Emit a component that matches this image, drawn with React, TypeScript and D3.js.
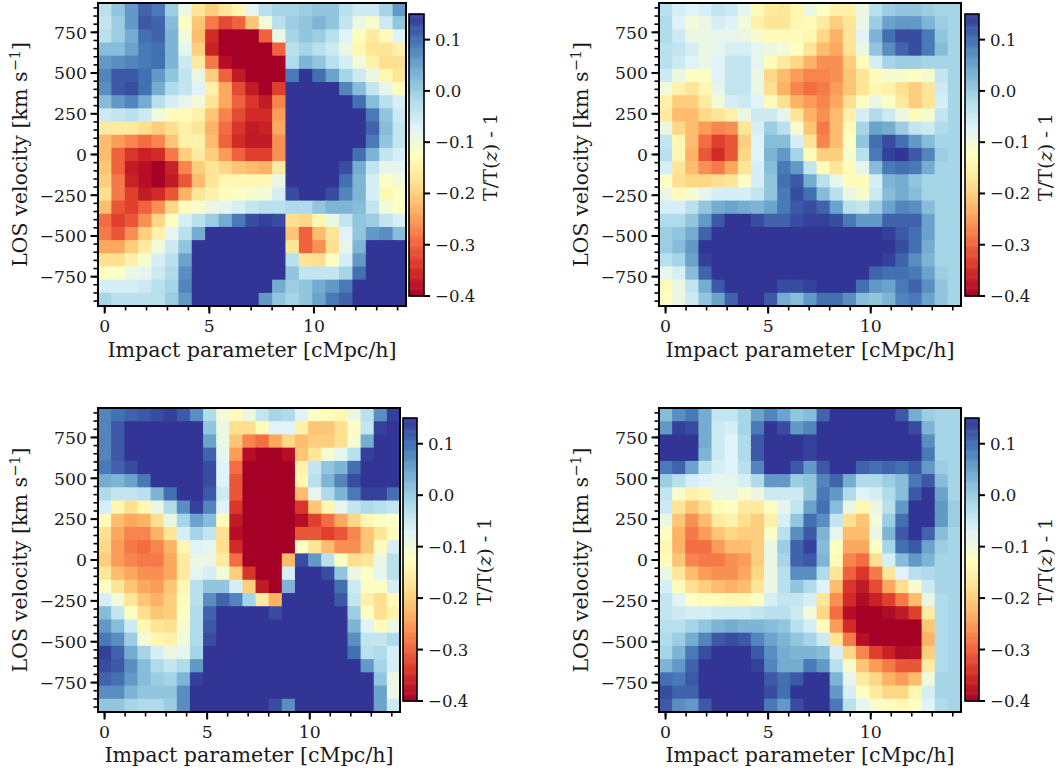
import React from "react";
import * as d3 from "d3";

// temperature contrast, in hundredths, top row first, one row per LOS velocity bin
const panelA: number[][] = [
[-3,1,6,11,9,0,-9,-17,-20,-17,-14,-8,-3,-1,-1,0,1,1,-3,-5,-5,-1,6],
[-4,0,6,12,11,2,-12,-21,-28,-32,-30,-21,-10,-3,0,1,3,1,-4,-9,-11,-5,1],
[-3,0,4,10,11,3,-10,-22,-35,-40,-40,-40,-30,-9,-1,1,0,-3,-7,-13,-16,-13,-7],
[2,2,5,9,10,3,-8,-20,-36,-40,-40,-40,-40,-30,-3,-1,-3,-5,-9,-14,-17,-17,-15],
[6,7,8,9,10,3,-5,-16,-28,-38,-40,-40,-40,-40,-2,3,1,-3,-6,-10,-15,-18,-18],
[8,12,12,10,6,1,-4,-9,-20,-30,-37,-40,-40,-40,9,15,10,5,-1,-5,-9,-14,-17],
[7,12,13,10,4,-2,-4,-7,-15,-24,-32,-37,-40,-33,15,15,15,15,8,2,-4,-8,-13],
[2,6,8,4,-3,-6,-8,-10,-17,-24,-30,-34,-37,-27,15,15,15,15,15,10,2,-3,-6],
[-5,-4,-3,-5,-10,-13,-13,-15,-21,-27,-32,-35,-35,-25,15,15,15,15,15,15,9,1,-5],
[-16,-16,-16,-18,-20,-18,-15,-17,-23,-29,-34,-37,-36,-24,15,15,15,15,15,15,11,2,-4],
[-22,-25,-27,-29,-27,-21,-15,-15,-22,-30,-35,-37,-37,-26,15,15,15,15,15,15,9,1,-4],
[-22,-30,-34,-36,-35,-28,-20,-16,-20,-25,-30,-33,-33,-26,15,15,15,15,15,10,3,-4,-6],
[-21,-30,-37,-38,-40,-36,-27,-20,-17,-19,-21,-22,-23,-16,15,15,15,15,13,4,-4,-8,-8],
[-20,-28,-36,-38,-40,-37,-31,-22,-17,-14,-14,-14,-14,-9,15,15,15,15,10,3,-6,-12,-10],
[-18,-28,-33,-37,-35,-31,-23,-17,-15,-13,-12,-11,-10,-6,13,15,15,13,8,3,-6,-14,-12],
[-22,-31,-33,-30,-26,-19,-13,-11,-9,-8,-6,-4,-3,-3,-2,-2,1,3,3,2,-4,-10,-12],
[-29,-33,-31,-26,-19,-12,-6,-3,0,4,9,13,14,13,-18,-19,-14,-9,-4,1,0,-4,-6],
[-28,-31,-26,-20,-15,-8,-3,4,15,15,15,15,15,15,-21,-30,-22,-17,-7,1,6,7,2],
[-24,-24,-20,-16,-10,-5,1,15,15,15,15,15,15,15,-17,-30,-26,-18,-8,3,15,15,15],
[-18,-18,-15,-11,-6,-3,5,15,15,15,15,15,15,15,-3,-17,-18,-12,-6,6,15,15,15],
[-12,-12,-9,-8,-5,-2,7,15,15,15,15,15,15,15,1,-4,-4,-4,-1,10,15,15,15],
[-6,-6,-6,-5,-3,-1,8,15,15,15,15,15,15,4,0,1,4,6,9,15,15,15,15],
[-1,-3,-3,-3,-3,0,6,15,15,15,15,15,6,1,-1,1,5,9,11,15,15,15,15],
];

const panelB: number[][] = [
[-3,-6,-7,-6,-4,-5,-8,-13,-16,-17,-14,-9,-12,-15,-15,-9,-3,0,1,1,0,-1,-1],
[-2,-7,-10,-9,-6,-7,-10,-15,-17,-17,-14,-13,-16,-20,-17,-9,0,5,6,6,3,0,-1],
[-2,-5,-9,-9,-8,-8,-9,-11,-13,-13,-13,-14,-19,-23,-17,-7,3,10,13,13,9,1,-1],
[-3,-4,-6,-9,-8,-6,-6,-8,-9,-10,-12,-17,-22,-24,-17,-9,1,7,11,13,9,2,-1],
[-3,-5,-7,-9,-7,-4,-4,-8,-13,-16,-19,-23,-26,-26,-20,-13,-6,-1,0,0,-1,-1,-1],
[-5,-9,-12,-12,-7,-4,-4,-9,-19,-22,-25,-27,-27,-26,-21,-17,-13,-11,-11,-12,-11,-4,-1],
[-10,-15,-17,-14,-8,-4,-4,-9,-18,-23,-27,-29,-28,-25,-21,-17,-14,-15,-18,-20,-17,-5,-1],
[-15,-20,-20,-16,-10,-6,-5,-7,-13,-18,-23,-25,-27,-24,-18,-12,-9,-12,-16,-20,-17,-6,-1],
[-16,-22,-22,-19,-17,-15,-9,-5,-5,-8,-17,-23,-26,-22,-15,-6,-2,-5,-9,-13,-11,-4,-1],
[-9,-19,-22,-25,-27,-26,-17,-6,0,-3,-11,-21,-28,-22,-13,-1,5,4,0,-4,-5,-2,-1],
[-4,-14,-22,-29,-33,-31,-20,-7,2,2,-6,-17,-27,-22,-12,1,10,13,10,6,2,-1,-1],
[-3,-14,-23,-31,-35,-31,-19,-7,3,6,-1,-13,-20,-20,-11,-3,9,14,15,12,8,0,-1],
[-6,-17,-22,-26,-28,-24,-17,-6,2,9,6,-4,-13,-17,-13,-8,2,9,10,9,4,-1,-1],
[-12,-18,-19,-19,-18,-17,-12,-6,1,10,12,4,-3,-8,-13,-13,-6,3,4,1,-1,-1,-1],
[-9,-13,-11,-8,-6,-6,-6,-4,1,9,13,10,2,-3,-9,-11,-5,2,4,2,-1,-1,-1],
[-6,-6,-3,1,4,5,4,3,5,9,12,13,11,5,-3,-4,0,5,8,7,2,-1,-1],
[-2,-2,1,6,12,15,15,13,11,11,13,14,14,13,9,6,6,11,11,11,5,-1,-1],
[0,1,4,11,15,15,15,15,15,15,15,15,15,15,15,15,15,14,12,10,5,-1,-1],
[0,2,6,15,15,15,15,15,15,15,15,15,15,15,15,15,15,15,13,10,4,-1,-1],
[-3,-1,5,14,15,15,15,15,15,15,15,15,15,15,15,15,15,14,11,7,3,-1,-1],
[-8,-6,2,11,15,15,15,15,15,15,15,15,15,15,15,15,11,10,10,9,5,0,-1],
[-13,-9,-4,4,12,15,15,15,15,13,13,14,15,15,15,10,6,5,9,11,7,1,-1],
[-12,-9,-5,1,5,11,15,15,12,4,2,6,10,10,7,2,1,3,8,9,5,1,-1],
];

const panelC: number[][] = [
[8,10,11,12,13,14,12,7,-2,-10,-13,-9,-4,-1,-2,-7,-12,-13,-14,-9,-3,7,14],
[8,12,15,15,15,15,15,15,1,-9,-18,-18,-13,-7,-7,-15,-21,-21,-18,-12,-4,14,15],
[8,12,15,15,15,15,15,15,5,-9,-21,-27,-29,-24,-19,-22,-20,-20,-18,-11,4,15,15],
[8,12,15,15,15,15,15,15,11,-8,-25,-38,-40,-40,-38,-21,-17,-11,-8,-3,14,15,15],
[9,11,13,15,15,15,15,15,13,-7,-29,-40,-40,-40,-40,-15,-4,1,3,10,15,15,15],
[4,3,5,9,15,15,15,15,13,-7,-31,-40,-40,-40,-40,-14,-3,3,8,13,15,15,15],
[-2,-4,-4,-3,3,10,15,15,12,-5,-31,-40,-40,-40,-40,-22,-8,-2,3,9,14,14,10],
[-6,-14,-18,-14,-9,-2,7,14,8,-7,-34,-40,-40,-40,-40,-34,-21,-14,-8,-4,-2,-3,-4],
[-13,-22,-24,-23,-18,-9,-1,5,2,-13,-37,-40,-40,-40,-40,-38,-33,-29,-24,-19,-14,-12,-12],
[-18,-24,-27,-27,-23,-17,-6,-1,-4,-18,-38,-40,-40,-40,-40,-31,-31,-33,-31,-27,-21,-17,-13],
[-19,-25,-28,-29,-27,-23,-14,-7,-8,-18,-35,-40,-40,-40,-40,-12,-17,-22,-26,-26,-21,-13,-6],
[-20,-25,-27,-28,-28,-24,-16,-9,-9,-16,-29,-40,-40,-40,-22,13,6,-3,-12,-18,-17,-9,-3],
[-17,-22,-24,-26,-26,-24,-16,-8,-6,-10,-20,-34,-40,-40,-6,15,15,13,1,-9,-12,-8,-3],
[-12,-17,-21,-24,-25,-21,-14,-3,1,1,-6,-20,-37,-40,3,15,15,15,10,-5,-12,-12,-6],
[-6,-10,-17,-21,-23,-20,-13,-3,7,11,8,-1,-16,-23,15,15,15,15,12,-4,-15,-18,-13],
[2,-4,-12,-18,-21,-20,-12,-2,11,15,15,15,15,13,15,15,15,15,15,0,-12,-18,-15],
[6,2,-5,-14,-17,-18,-11,-2,12,15,15,15,15,15,15,15,15,15,15,3,-7,-13,-9],
[9,7,0,-10,-14,-15,-10,-2,13,15,15,15,15,15,15,15,15,15,15,7,-4,-4,-2],
[14,11,4,-1,-6,-9,-8,-1,15,15,15,15,15,15,15,15,15,15,15,10,-3,-2,-6],
[13,12,7,2,-2,-4,-2,6,15,15,15,15,15,15,15,15,15,15,15,15,6,-1,-6],
[11,10,6,2,0,-1,3,14,15,15,15,15,15,15,15,15,15,15,15,15,15,1,-9],
[7,7,3,1,1,1,7,15,15,15,15,15,15,15,15,15,15,15,15,15,15,5,-9],
[1,1,-1,-2,-2,0,7,15,15,15,15,15,15,13,7,15,15,15,15,15,15,5,-5],
];

const panelD: number[][] = [
[2,7,9,4,-4,-4,-1,5,8,5,1,2,11,15,15,15,15,15,12,4,0,-1,-1],
[6,14,13,4,-5,-6,-1,9,15,13,6,8,15,15,15,15,15,15,15,13,3,-1,-1],
[15,15,15,4,-5,-7,-2,12,15,15,15,14,15,15,15,15,15,15,15,15,7,-1,-1],
[15,15,15,3,-5,-7,-2,12,15,15,15,14,15,15,15,15,15,15,15,15,9,-1,-1],
[9,11,5,-3,-6,-7,-3,8,15,15,12,6,12,15,15,11,10,11,10,12,6,0,-1],
[0,-3,-6,-7,-8,-8,-6,-2,6,6,0,1,8,11,4,-2,-2,0,2,9,12,2,-1],
[-4,-11,-15,-14,-9,-9,-11,-9,-5,-5,-5,1,9,6,-2,-7,-6,-2,2,12,15,5,-1],
[-5,-17,-21,-18,-13,-12,-16,-16,-12,-8,-4,5,10,2,-9,-14,-9,-3,6,15,15,6,0],
[-9,-21,-26,-22,-16,-15,-18,-20,-15,-6,1,10,7,-4,-18,-21,-10,0,10,15,15,6,0],
[-12,-23,-28,-25,-21,-19,-20,-20,-12,-3,7,12,3,-8,-22,-22,-9,3,12,15,11,2,-1],
[-14,-23,-29,-29,-25,-22,-22,-20,-9,0,11,14,2,-12,-24,-24,-12,-1,10,12,5,0,-1],
[-13,-21,-27,-28,-28,-26,-25,-20,-9,-1,11,12,3,-13,-27,-29,-18,-6,2,6,3,-1,-1],
[-9,-17,-22,-25,-26,-26,-24,-19,-9,-3,7,7,-2,-17,-30,-34,-28,-17,-7,-3,-2,-1,-1],
[-6,-13,-18,-20,-22,-23,-22,-17,-9,-3,1,-2,-7,-22,-34,-37,-32,-24,-18,-11,-5,-1,-1],
[-4,-7,-12,-13,-13,-14,-14,-12,-6,-4,-4,-6,-17,-26,-35,-39,-36,-33,-28,-22,-9,-2,-1],
[-4,-5,-6,-6,-5,-5,-5,-4,-3,-3,-5,-10,-19,-29,-38,-40,-40,-39,-37,-33,-16,-2,-1],
[-3,-3,-1,1,3,4,3,3,2,1,-3,-6,-13,-25,-35,-40,-40,-40,-40,-40,-21,-2,-1],
[-2,0,4,8,12,13,12,8,5,3,1,-1,-5,-17,-28,-38,-40,-40,-40,-40,-23,-2,-1],
[-1,3,9,13,15,15,15,12,7,4,3,3,2,-6,-19,-27,-33,-36,-39,-38,-20,-2,-1],
[3,6,11,15,15,15,15,14,8,4,4,9,6,-3,-11,-21,-25,-28,-31,-31,-16,-2,-1],
[10,9,12,15,15,15,15,15,12,10,12,15,15,3,-8,-16,-19,-23,-25,-22,-10,-1,-1],
[13,11,11,15,15,15,15,15,13,10,15,15,15,6,-6,-12,-16,-19,-19,-14,-6,-1,-1],
[12,7,6,12,15,15,15,15,9,6,13,15,15,9,-3,-8,-11,-13,-14,-12,-7,-2,-1],
];

const xTicks = [0, 5, 10];
const xMinor = d3.range(0, 15);
const yTicks = [-750, -500, -250, 0, 250, 500, 750];
const yMinor = d3.range(-900, 901, 50);
const cbTicks = [0.1, 0, -0.1, -0.2, -0.3, -0.4];
const rdYlBu = ["#a50026","#d73027","#f46d43","#fdae61","#fee090","#ffffbf","#e0f3f8","#abd9e9","#74add1","#4575b4","#313695"];

const X0 = -0.32, X1 = 14.4, Y0 = -930, Y1 = 930;
const V0 = -0.4, V1 = 0.15;
const FONT = "'DejaVu Serif', serif";
const TICK_SIZE = 17.3;
const LABEL_SIZE = 20.6;
const TEXT_FILL = "#1a1a1a";

const color = d3.scaleLinear<string>()
  .domain(rdYlBu.map((_, i) => V0 + (i * (V1 - V0)) / 10))
  .range(rdYlBu)
  .interpolate(d3.interpolateRgb)
  .clamp(true);

const fmt = (v: number) => (v < 0 ? "\u2212" : "") + Math.abs(v).toFixed(1);

function Panel({ data, id, l, r, t, b, cl, cr, ct, cb, xl, yl, cbl }: any) {
  const x = d3.scaleLinear().domain([X0, X1]).range([l, r]);
  const y = d3.scaleLinear().domain([Y0, Y1]).range([b, t]);
  const c = d3.scaleLinear().domain([V0, V1]).range([cb, ct]);
  const nr = data.length, nc = data[0].length;
  const dx = (X1 - X0) / nc, dy = (Y1 - Y0) / nr;
  const strips = d3.range(0, 256);
  return (
    <g fontFamily={FONT} fill={TEXT_FILL}>
      <clipPath id={id}><rect x={l} y={t} width={r - l} height={b - t} /></clipPath>
      <g clipPath={`url(#${id})`}>
        <g filter="url(#soft)">
          {data.map((row: number[], i: number) =>
            row.map((v, j) => (
              <rect key={`${i}-${j}`}
                x={x(X0 + j * dx) - (j === 0 ? 4 : 0)}
                y={y(Y1 - i * dy) - (i === 0 ? 4 : 0)}
                width={x(X0 + (j + 1) * dx) - x(X0 + j * dx) + 1.2 + (j === 0 || j === nc - 1 ? 4 : 0)}
                height={y(Y1 - (i + 1) * dy) - y(Y1 - i * dy) + 1.2 + (i === 0 || i === nr - 1 ? 4 : 0)}
                fill={color(v / 100)} />
            ))
          )}
        </g>
      </g>
      <rect x={l} y={t} width={r - l} height={b - t} fill="none" stroke="#000" strokeWidth={2} />
      {xMinor.map((v) => <line key={v} x1={x(v)} x2={x(v)} y1={b} y2={b + 4.5} stroke="#000" strokeWidth={1.6} />)}
      {xTicks.map((v) => (
        <g key={v}>
          <line x1={x(v)} x2={x(v)} y1={b} y2={b + 7.5} stroke="#000" strokeWidth={2} />
          <text x={x(v)} y={b + 25.5} fontSize={TICK_SIZE} textAnchor="middle">{v}</text>
        </g>
      ))}
      {yMinor.map((v) => <line key={v} x1={l} x2={l - 4.5} y1={y(v)} y2={y(v)} stroke="#000" strokeWidth={1.6} />)}
      {yTicks.map((v) => (
        <g key={v}>
          <line x1={l} x2={l - 7.5} y1={y(v)} y2={y(v)} stroke="#000" strokeWidth={2} />
          <text x={l - 11} y={y(v) + 6.3} fontSize={TICK_SIZE} textAnchor="end">{v < 0 ? "\u2212" + -v : v}</text>
        </g>
      ))}
      <text x={(l + r) / 2} y={xl} fontSize={LABEL_SIZE} textAnchor="middle">Impact parameter [cMpc/h]</text>
      <text transform={`translate(${yl},${(t + b) / 2}) rotate(-90)`} fontSize={LABEL_SIZE} textAnchor="middle">
        LOS velocity [km s<tspan dy={-7.5} fontSize={14.5}>{"\u22121"}</tspan><tspan dy={7.5}>]</tspan>
      </text>
      {strips.map((i) => (
        <rect key={i} x={cl} width={cr - cl}
          y={c(V0 + ((i + 1) * (V1 - V0)) / 256)}
          height={(cb - ct) / 256 + 0.5}
          fill={color(V0 + ((i + 0.5) * (V1 - V0)) / 256)} />
      ))}
      <rect x={cl} y={ct} width={cr - cl} height={cb - ct} fill="none" stroke="#000" strokeWidth={1.6} />
      {cbTicks.map((v) => (
        <g key={v}>
          <line x1={cr} x2={cr + 6} y1={c(v)} y2={c(v)} stroke="#000" strokeWidth={2} />
          <text x={cr + 11} y={c(v) + 6} fontSize={16.6} textAnchor="start">{fmt(v)}</text>
        </g>
      ))}
      <text transform={`translate(${cbl},${(ct + cb) / 2 + 2}) rotate(-90)`} fontSize={19.2} textAnchor="middle">
        T/T(<tspan fontStyle="italic">z</tspan>) - 1
      </text>
    </g>
  );
}

export default function App() {
  return (
    <svg width={1062} height={774} viewBox="0 0 1062 774"
      style={{ position: "absolute", left: 0, top: 0, background: "#fff" }}>
      <defs>
        <filter id="soft" x="-5%" y="-5%" width="110%" height="110%">
          <feGaussianBlur stdDeviation={0.6} />
        </filter>
      </defs>
      <Panel data={panelA} id="a" l={98} r={406} t={3} b={306} cl={409} cr={424} ct={14} cb={296} xl={356.5} yl={27} cbl={497} />
      <Panel data={panelB} id="b" l={659} r={961} t={3} b={306} cl={965} cr={979} ct={14} cb={296} xl={356.5} yl={588} cbl={1052} />
      <Panel data={panelC} id="c" l={98} r={400} t={408} b={712} cl={403} cr={417} ct={418} cb={701} xl={761.5} yl={27} cbl={490.5} />
      <Panel data={panelD} id="d" l={659} r={961} t={408} b={712} cl={965} cr={979} ct={418} cb={701} xl={761.5} yl={588} cbl={1052} />
    </svg>
  );
}
